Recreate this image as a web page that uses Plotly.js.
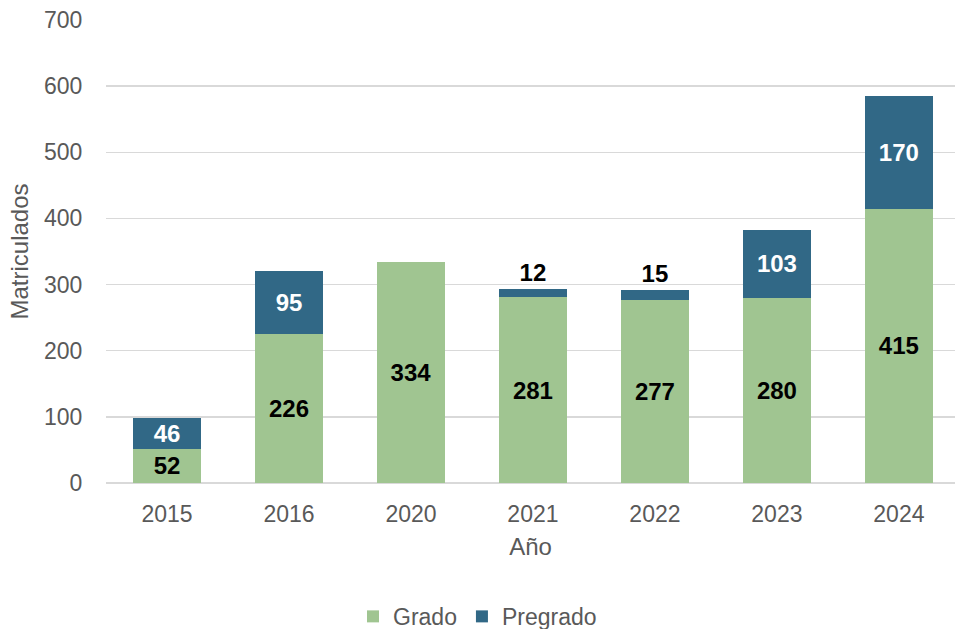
<!DOCTYPE html>
<html>
<head>
<meta charset="utf-8">
<script src="https://cdn.plot.ly/plotly-3.0.1.min.js"></script>
<style>
  html, body { margin: 0; padding: 0; background: #ffffff; }
  #chart { width: 955px; height: 629px; }
</style>
</head>
<body>
<div id="chart"></div>
<script>
const years = ["2015", "2016", "2020", "2021", "2022", "2023", "2024"];
const grado = [52, 226, 334, 281, 277, 280, 415];
const pregrado = [46, 95, null, 12, 15, 103, 170];

const FONT = "Liberation Sans, Arial, sans-serif";
const GREEN = "#A0C591";
const BLUE = "#316886";
const GREY = "#595959";

// small stacked segments get their number above the bar, in black
const pregradoPos = pregrado.map((v) => (v !== null && v < 30 ? "outside" : "inside"));
const pregradoColor = pregradoPos.map((p) => (p === "outside" ? "#000000" : "#ffffff"));

const traces = [
  {
    type: "bar",
    name: "Grado",
    x: years,
    y: grado,
    marker: { color: GREEN },
    text: grado.map(String),
    textposition: "inside",
    insidetextanchor: "middle",
    textangle: 0,
    textfont: { family: FONT, size: 24, color: "#000000", weight: "bold" },
    constraintext: "none",
    hoverinfo: "skip",
  },
  {
    type: "bar",
    name: "Pregrado",
    x: years,
    y: pregrado,
    marker: { color: BLUE },
    text: pregrado.map((v) => (v === null ? "" : String(v))),
    textposition: pregradoPos,
    insidetextanchor: "middle",
    textangle: 0,
    textfont: { family: FONT, size: 24, color: pregradoColor, weight: "bold" },
    constraintext: "none",
    cliponaxis: false,
    hoverinfo: "skip",
  },
];

Plotly.newPlot("chart", traces, {
  width: 955,
  height: 629,
  paper_bgcolor: "#ffffff",
  plot_bgcolor: "#ffffff",
  margin: { t: 20, r: 0, b: 146, l: 106 },
  barmode: "stack",
  bargap: 0.44,
  font: { family: FONT, color: GREY },
  xaxis: {
    type: "category",
    range: [-0.5, 6.46],
    tickfont: { family: FONT, size: 23, color: GREY },
    ticks: "outside",
    ticklen: 10,
    tickcolor: "rgba(0,0,0,0)",
    showline: false,
    title: { text: "Año", font: { family: FONT, size: 24, color: GREY }, standoff: 12 },
  },
  yaxis: {
    range: [0, 700],
    dtick: 100,
    gridcolor: "#D9D9D9",
    gridwidth: 1.5,
    zeroline: true,
    zerolinecolor: "#D9D9D9",
    zerolinewidth: 1.5,
    tickfont: { family: FONT, size: 23, color: GREY },
    ticks: "outside",
    ticklen: 18,
    tickcolor: "rgba(0,0,0,0)",
    title: { text: "Matriculados", font: { family: FONT, size: 24, color: GREY }, standoff: 8 },
  },
  showlegend: true,
  legend: {
    orientation: "h",
    xref: "container",
    yref: "container",
    x: 0.5,
    xanchor: "center",
    y: 0.02,
    yanchor: "middle",
    font: { family: FONT, size: 23, color: GREY },
    itemwidth: 30,
    traceorder: "normal",
  },
}, { displayModeBar: false, staticPlot: true });
</script>
</body>
</html>
